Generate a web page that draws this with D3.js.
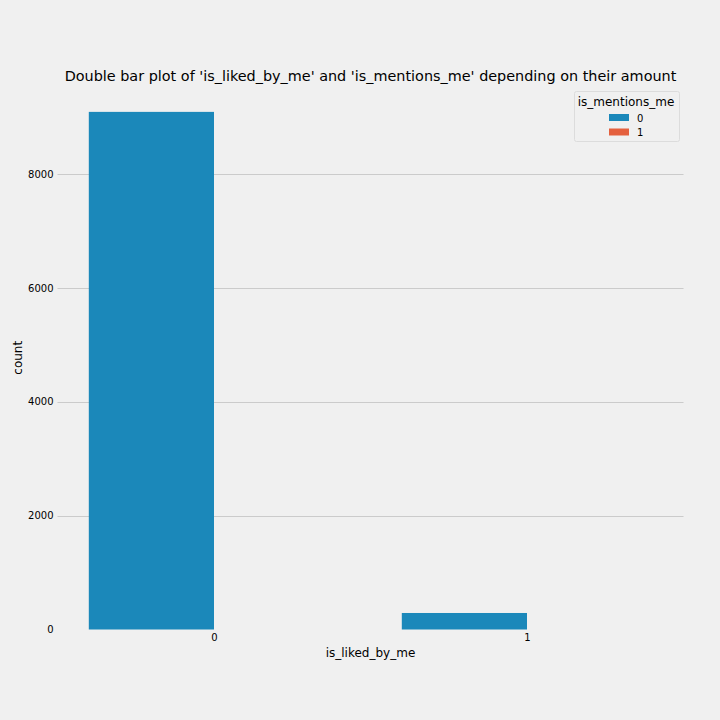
<!DOCTYPE html>
<html lang="en">
<head>
    <meta charset="UTF-8">
    <title>Double bar plot</title>
    <script src="https://d3js.org/d3.v7.min.js"></script>
    <style>
        body { margin: 0; background: #f0f0f0; font-family: "DejaVu Sans", sans-serif; }
        svg { display: block; }
    </style>
</head>
<body>
    <svg width="720" height="720"></svg>

    <script>
        // data
        const categories = ["0", "1"];          // is_liked_by_me
        const hues = ["0", "1"];                // is_mentions_me
        const hueColors = ["#1b88ba", "#e4603e"];
        const counts = {
            "0": [9090, 0],
            "1": [290, 0]
        };
        const yTicks = [0, 2000, 4000, 6000, 8000];

        const svg = d3.select("svg");
        svg.append("rect").attr("width", 720).attr("height", 720).attr("fill", "#f0f0f0");

        // axes box in pixels
        const box = {left: 57.5, right: 683.5, top: 86, bottom: 629.5};

        const x = d3.scaleLinear().domain([-0.5, 1.5]).range([box.left, box.right]);
        const y = d3.scaleLinear().domain([0, 9090 * 1.05]).range([box.bottom, box.top]);

        const g = svg.append("g");

        // horizontal grid (the one at 0 is not visible in the original)
        g.selectAll(".grid")
            .data(yTicks.filter(d => d > 0))
            .enter().append("line")
            .attr("x1", box.left).attr("x2", box.right)
            .attr("y1", d => Math.round(y(d)) + 0.5).attr("y2", d => Math.round(y(d)) + 0.5)
            .attr("stroke", "#cbcbcb").attr("stroke-width", 1);

        // bars
        const barW = 0.4;
        categories.forEach((c, i) => {
            hues.forEach((h, j) => {
                const v = counts[c][j];
                const x0 = i - 0.4 + j * barW;
                g.append("rect")
                    .attr("x", x(x0))
                    .attr("width", x(x0 + barW) - x(x0))
                    .attr("y", y(v))
                    .attr("height", y(0) - y(v))
                    .attr("fill", hueColors[j]);
            });
        });

        // y axis
        const yAxis = svg.append("g")
            .attr("transform", `translate(${box.left},0)`)
            .call(d3.axisLeft(y).tickValues(yTicks).tickSize(0).tickPadding(4).tickFormat(d3.format("d")));
        yAxis.select(".domain").remove();
        yAxis.selectAll("text").attr("font-size", 10).attr("fill", "#000").attr("font-family", "DejaVu Sans");

        // x axis
        const xAxis = svg.append("g")
            .attr("transform", `translate(0,${box.bottom})`)
            .call(d3.axisBottom(x).tickValues([0, 1]).tickSize(0).tickPadding(4.5)
                .tickFormat((d, i) => categories[i]));
        xAxis.select(".domain").remove();
        xAxis.selectAll("text").attr("font-size", 10).attr("fill", "#000").attr("font-family", "DejaVu Sans");

        // labels
        svg.append("text")
            .attr("x", (box.left + box.right) / 2).attr("y", 657)
            .attr("text-anchor", "middle")
            .attr("font-size", 12)
            .text("is_liked_by_me");

        svg.append("text")
            .attr("transform", `translate(22,${(box.top + box.bottom) / 2}) rotate(-90)`)
            .attr("text-anchor", "middle")
            .attr("font-size", 12)
            .text("count");

        svg.append("text")
            .attr("x", (box.left + box.right) / 2).attr("y", 81)
            .attr("text-anchor", "middle")
            .attr("font-size", 14.4)
            .text("Double bar plot of 'is_liked_by_me' and 'is_mentions_me' depending on their amount");

        // legend
        const lg = svg.append("g");
        lg.append("rect")
            .attr("x", 574.5).attr("y", 91.5).attr("width", 105).attr("height", 50)
            .attr("rx", 2)
            .attr("fill", "#f0f0f0").attr("stroke", "#dcdcdc");
        lg.append("text")
            .attr("x", 626).attr("y", 106)
            .attr("text-anchor", "middle")
            .attr("font-size", 12)
            .text("is_mentions_me");
        hues.forEach((h, j) => {
            lg.append("rect")
                .attr("x", 609).attr("y", 114 + j * 14.5)
                .attr("width", 20).attr("height", 7)
                .attr("fill", hueColors[j]);
            lg.append("text")
                .attr("x", 637).attr("y", 121.5 + j * 14.5)
                .attr("font-size", 10)
                .text(h);
        });
    </script>
</body>
</html>
